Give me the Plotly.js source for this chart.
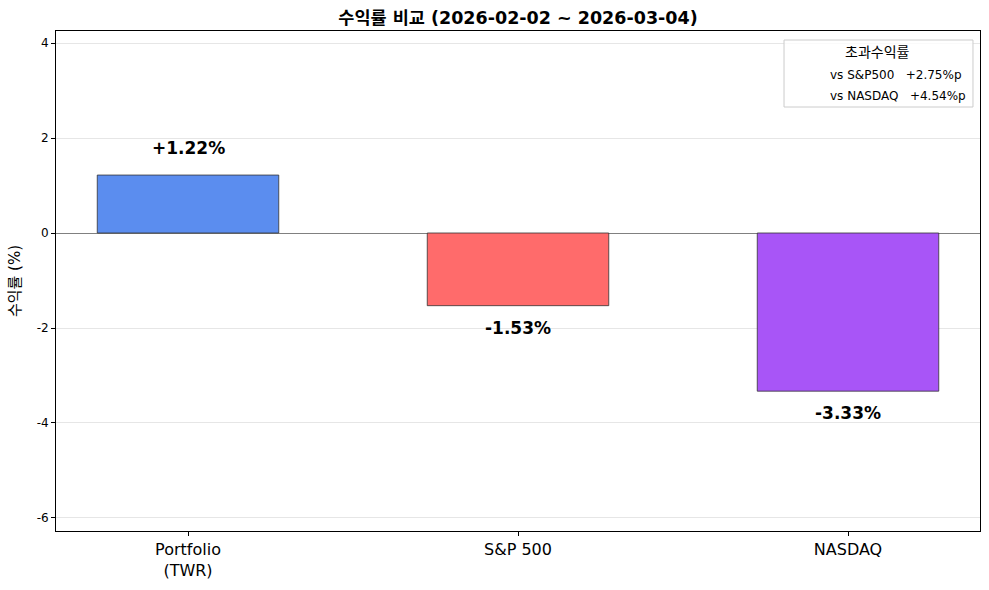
<!DOCTYPE html>
<html><head><meta charset="utf-8">
<script src="https://cdn.plot.ly/plotly-3.0.1.min.js"></script>
<style>html,body{margin:0;padding:0;background:#fff}</style>
</head><body><div id="chart" style="width:989px;height:590px"></div>
<script>
const categories = ["Portfolio<br>(TWR)", "S&P 500", "NASDAQ"];
const returns = [1.22, -1.53, -3.33];
const returnLabels = ["+1.22%", "-1.53%", "-3.33%"];
const barColors = ["#5B8DEF", "#FF6B6B", "#A855F7"];
const excessLabels = ["vs S&P500", "vs NASDAQ"];
const excessValues = ["+2.75%p", "+4.54%p"];

const FONT = "'DejaVu Sans', 'Noto Sans CJK KR', sans-serif";

const trace = {
  type: "bar",
  x: [0, 1, 2],
  y: returns,
  width: 0.55,
  marker: {color: barColors, line: {color: "#333333", width: 0.8}},
  hoverinfo: "none"
};

const annotations = returns.map((v, i) => ({
  x: i, y: v >= 0 ? v + 0.58 : v - 0.47, xref: "x", yref: "y",
  text: "<b>" + returnLabels[i] + "</b>", showarrow: false,
  font: {family: FONT, size: 17, color: "#000"}
}));
annotations.push({
  xref: "paper", yref: "paper", x: 0.8896, y: 0.958, xanchor: "center", yanchor: "middle",
  text: "초과수익률", showarrow: false, font: {family: FONT, size: 14, color: "#000"}
});
excessLabels.forEach((lab, i) => {
  annotations.push({
    xref: "paper", yref: "paper", x: 0.8355, y: 0.912 - i * 0.042, xanchor: "left", yanchor: "middle",
    text: lab + "   " + excessValues[i], showarrow: false,
    font: {family: FONT, size: 12, color: "#000"}
  });
});

const layout = {
  width: 989, height: 590,
  margin: {l: 56, r: 9, t: 31, b: 59},
  paper_bgcolor: "#fff", plot_bgcolor: "#fff",
  font: {family: FONT, color: "#000"},
  title: {text: "<b>수익률 비교 (2026-02-02 ~ 2026-03-04)</b>", xref: "paper", x: 0.5, xanchor: "center", y: 0.969, yanchor: "middle",
          font: {family: FONT, size: 17.5, color: "#000"}},
  showlegend: false,
  bargap: 0,
  xaxis: {
    range: [-0.4, 2.4], tickmode: "array", tickvals: [0, 1, 2], ticktext: categories,
    showgrid: false, zeroline: false, showline: true, mirror: true, linecolor: "#000", linewidth: 1,
    ticks: "outside", ticklen: 4, tickcolor: "#000",
    tickfont: {family: FONT, size: 16, color: "#000"}
  },
  yaxis: {
    range: [-6.274, 4.253], tickmode: "array", tickvals: [-6, -4, -2, 0, 2, 4],
    ticktext: ["-6", "-4", "-2", "0", "2", "4"],
    showgrid: true, gridcolor: "#e6e6e6", gridwidth: 1,
    zeroline: true, zerolinecolor: "#808080", zerolinewidth: 1,
    showline: true, mirror: true, linecolor: "#000", linewidth: 1,
    ticks: "outside", ticklen: 4, tickcolor: "#000",
    tickfont: {family: FONT, size: 12, color: "#000"},
    title: {text: "수익률 (%)", font: {family: FONT, size: 15, color: "#000"}, standoff: 12}
  },
  shapes: [{
    type: "rect", xref: "paper", yref: "paper",
    x0: 0.7879, x1: 0.9924, y0: 0.848, y1: 0.982,
    line: {color: "#cccccc", width: 1}, fillcolor: "rgba(255,255,255,0.8)", layer: "above"
  }],
  annotations: annotations
};

Plotly.newPlot("chart", [trace], layout, {displayModeBar: false, staticPlot: true});
</script></body></html>
